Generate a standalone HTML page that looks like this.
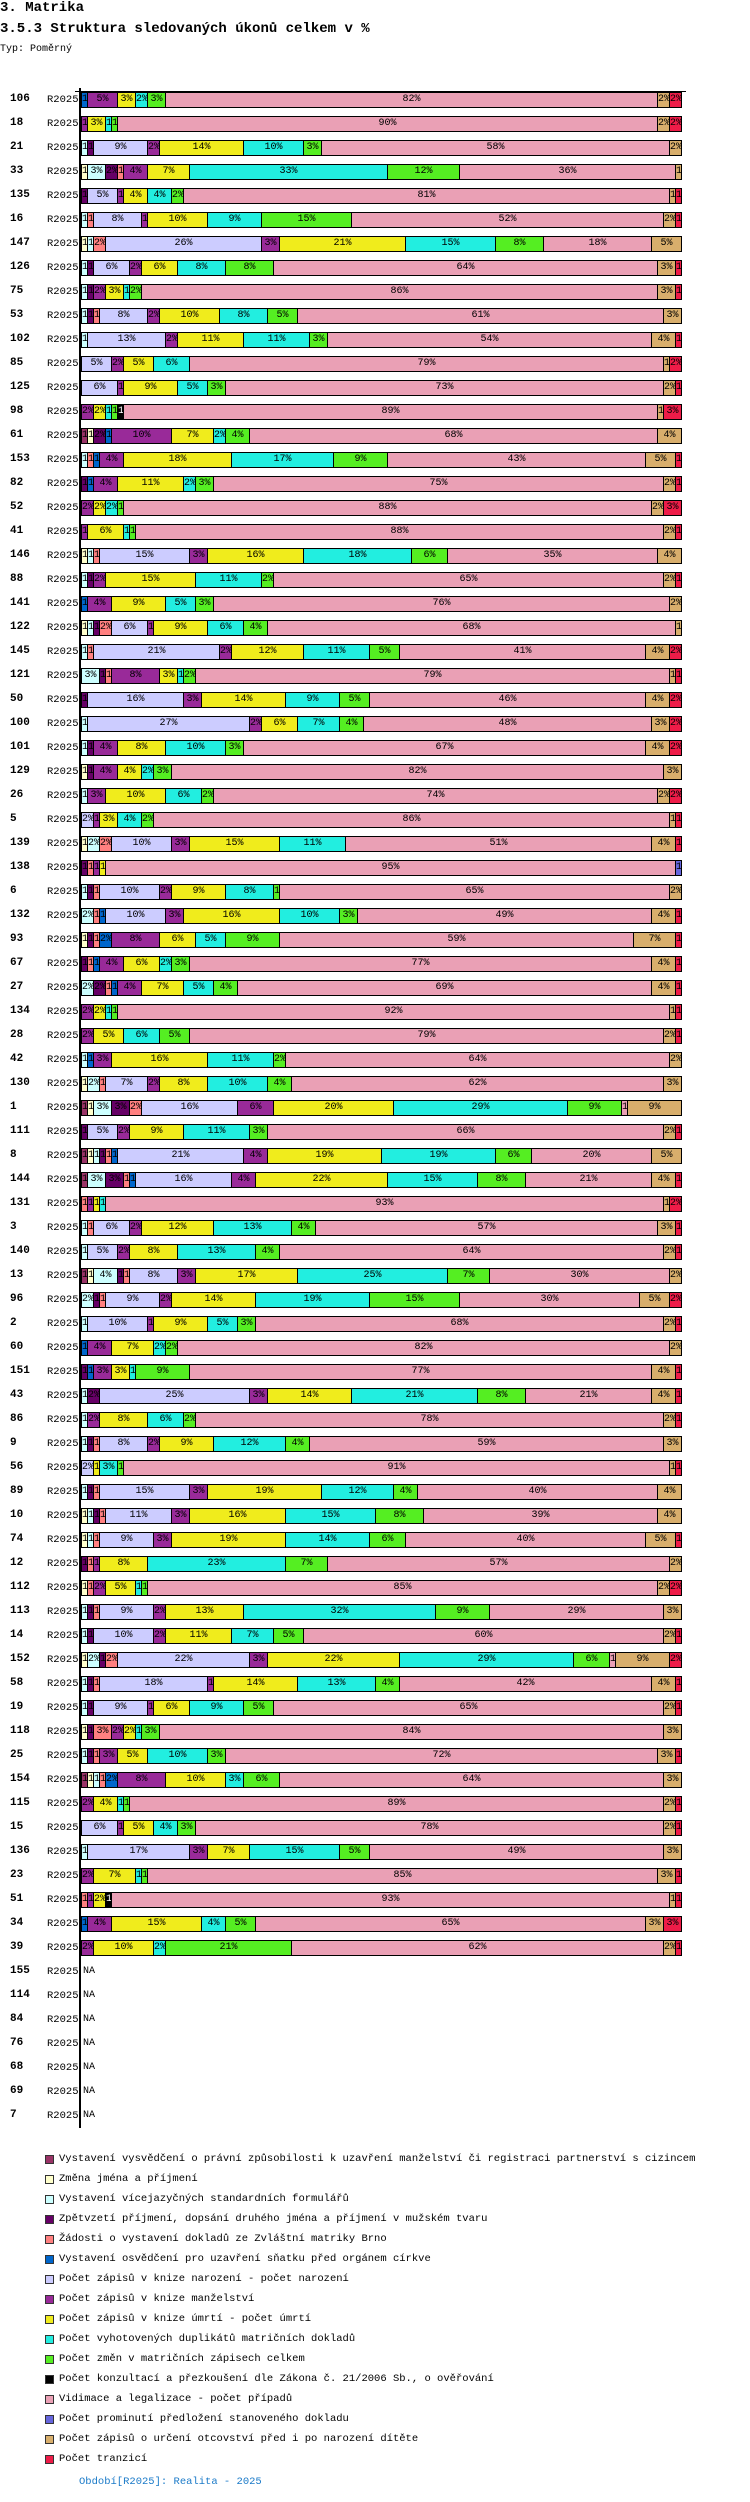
<!DOCTYPE html>
<html><head><meta charset="utf-8">
<style>
body{margin:0;background:#fff;width:750px;height:2502px;position:relative;overflow:hidden;font-family:"Liberation Mono",monospace;color:#000}
.abs{position:absolute}
.seg{position:absolute;box-sizing:border-box;border:1px solid #000;overflow:hidden;white-space:nowrap;text-align:center;font-size:10px;line-height:13px}
.lbl{position:absolute;font-size:11px;line-height:14px}
.leg{position:absolute;font-size:10.5px;line-height:12px;white-space:nowrap}
.sw{position:absolute;width:7px;height:7px;border:1px solid #333}
</style></head><body>
<div class="abs" style="left:0;top:0;font-size:14px;font-weight:bold;line-height:16px">3. Matrika</div>
<div class="abs" style="left:0;top:21px;font-size:14px;font-weight:bold;line-height:16px;white-space:nowrap">3.5.3 Struktura sledovaných úkonů celkem v %</div>
<div class="abs" style="left:0;top:44px;font-size:10px;line-height:12px">Typ: Poměrný</div>
<div id="chart"></div>
<div id="legend"></div>
<div class="abs" style="left:79px;top:2476px;font-size:10.5px;color:#1a7ac8;white-space:nowrap">Období[R2025]: Realita - 2025</div>
<script>
const categories=[106,18,21,33,135,16,147,126,75,53,102,85,125,98,61,153,82,52,41,146,88,141,122,145,121,50,100,101,129,26,5,139,138,6,132,93,67,27,134,28,42,130,1,111,8,144,131,3,140,13,96,2,60,151,43,86,9,56,89,10,74,12,112,113,14,152,58,19,118,25,154,115,15,136,23,51,34,39,155,114,84,76,68,69,7];
const seriesNames=["Vystavení vysvědčení o právní způsobilosti k uzavření manželství či registraci partnerství s cizincem","Změna jména a příjmení","Vystavení vícejazyčných standardních formulářů","Zpětvzetí příjmení, dopsání druhého jména a příjmení v mužském tvaru","Žádosti o vystavení dokladů ze Zvláštní matriky Brno","Vystavení osvědčení pro uzavření sňatku před orgánem církve","Počet zápisů v knize narození - počet narození","Počet zápisů v knize manželství","Počet zápisů v knize úmrtí - počet úmrtí","Počet vyhotovených duplikátů matričních dokladů","Počet změn v matričních zápisech celkem","Počet  konzultací a přezkoušení dle Zákona č. 21/2006 Sb., o ověřování","Vidimace a legalizace - počet případů","Počet prominutí předložení stanoveného dokladu","Počet zápisů o určení otcovství před i po narození dítěte","Počet tranzicí"];
const seriesColors=["#993366","#ffffcc","#ccffff","#660066","#ff8080","#0066cc","#ccccff","#992a99","#f0ec1c","#22eee0","#55ee22","#000000","#eaa0b5","#6666dd","#d8ae6c","#ee1c48"];
const rowValues=[
[0,0,0,0,0,1,0,5,3,2,3,0,82,0,2,2],
[0,0,0,0,0,0,0,1,3,1,1,0,90,0,2,2],
[0,0,1,1,0,0,9,2,14,10,3,0,58,0,2,0],
[0,1,3,2,1,0,0,4,7,33,12,0,36,0,1,0],
[0,0,0,1,0,0,5,1,4,4,2,0,81,0,1,1],
[0,0,1,0,1,0,8,1,10,9,15,0,52,0,2,1],
[0,1,1,0,2,0,26,3,21,15,8,0,18,0,5,0],
[0,0,1,1,0,0,6,2,6,8,8,0,64,0,3,1],
[0,0,1,1,0,0,0,2,3,1,2,0,86,0,3,1],
[0,0,1,1,1,0,8,2,10,8,5,0,61,0,3,0],
[0,0,1,0,0,0,13,2,11,11,3,0,54,0,4,1],
[0,0,0,0,0,0,5,2,5,6,0,0,79,0,1,2],
[0,0,0,0,0,0,6,1,9,5,3,0,73,0,2,1],
[0,0,0,0,0,0,0,2,2,1,1,1,89,0,1,3],
[1,1,0,2,0,1,0,10,7,2,4,0,68,0,4,0],
[0,0,1,0,1,1,0,4,18,17,9,0,43,0,5,1],
[0,0,0,1,0,1,0,4,11,2,3,0,75,0,2,1],
[0,0,0,0,0,0,0,2,2,2,1,0,88,0,2,3],
[0,0,0,0,0,0,0,1,6,1,1,0,88,0,2,1],
[0,1,1,0,1,0,15,3,16,18,6,0,35,0,4,0],
[0,0,1,1,0,0,0,2,15,11,2,0,65,0,2,1],
[0,0,0,0,0,1,0,4,9,5,3,0,76,0,2,0],
[0,1,1,1,2,0,6,1,9,6,4,0,68,0,1,0],
[0,0,1,0,1,0,21,2,12,11,5,0,41,0,4,2],
[0,0,3,1,1,0,0,8,3,1,2,0,79,0,1,1],
[0,0,0,1,0,0,16,3,14,9,5,0,46,0,4,2],
[0,0,1,0,0,0,27,2,6,7,4,0,48,0,3,2],
[0,0,1,1,0,0,0,4,8,10,3,0,67,0,4,2],
[0,1,0,1,0,0,0,4,4,2,3,0,82,0,3,0],
[0,0,1,0,0,0,0,3,10,6,2,0,74,0,2,2],
[0,0,0,0,0,0,2,1,3,4,2,0,86,0,1,1],
[0,1,2,0,2,0,10,3,15,11,0,0,51,0,4,1],
[0,0,0,1,1,0,0,1,1,0,0,0,95,1,0,0],
[0,0,1,1,1,0,10,2,9,8,1,0,65,0,2,0],
[0,0,2,0,1,1,10,3,16,10,3,0,49,0,4,1],
[0,1,0,1,1,2,0,8,6,5,9,0,59,0,7,1],
[0,0,0,1,1,1,0,4,6,2,3,0,77,0,4,1],
[0,0,2,2,1,1,0,4,7,5,4,0,69,0,4,1],
[0,0,0,0,0,0,0,2,2,1,1,0,92,0,1,1],
[0,0,0,0,0,0,0,2,5,6,5,0,79,0,2,1],
[0,0,1,0,0,1,0,3,16,11,2,0,64,0,2,0],
[0,1,2,0,1,0,7,2,8,10,4,0,62,0,3,0],
[1,1,3,3,2,0,16,6,20,29,9,0,1,0,9,0],
[0,0,0,1,0,0,5,2,9,11,3,0,66,0,2,1],
[1,1,1,1,1,1,21,4,19,19,6,0,20,0,5,0],
[1,0,3,3,1,1,16,4,22,15,8,0,21,0,4,1],
[0,0,0,0,1,0,0,1,1,1,0,0,93,0,1,2],
[0,0,1,0,1,0,6,2,12,13,4,0,57,0,3,1],
[0,0,1,0,0,0,5,2,8,13,4,0,64,0,2,1],
[1,1,4,1,1,0,8,3,17,25,7,0,30,0,2,0],
[0,0,2,1,1,0,9,2,14,19,15,0,30,0,5,2],
[0,0,1,0,0,0,10,1,9,5,3,0,68,0,2,1],
[0,0,0,0,0,1,0,4,7,2,2,0,82,0,2,0],
[0,0,0,1,0,1,0,3,3,1,9,0,77,0,4,1],
[0,0,1,2,0,0,25,3,14,21,8,0,21,0,4,1],
[0,0,1,0,0,0,0,2,8,6,2,0,78,0,2,1],
[0,0,1,1,1,0,8,2,9,12,4,0,59,0,3,0],
[0,0,0,0,0,0,2,0,1,3,1,0,91,0,1,1],
[0,0,1,1,1,0,15,3,19,12,4,0,40,0,4,0],
[0,1,1,1,1,0,11,3,16,15,8,0,39,0,4,0],
[0,1,1,0,1,0,9,3,19,14,6,0,40,0,5,1],
[0,0,0,1,1,0,0,1,8,23,7,0,57,0,2,0],
[0,1,0,0,1,0,0,2,5,1,1,0,85,0,2,2],
[0,0,1,1,1,0,9,2,13,32,9,0,29,0,3,0],
[0,0,1,1,0,0,10,2,11,7,5,0,60,0,2,1],
[0,1,2,1,2,0,22,3,22,29,6,0,1,0,9,2],
[0,0,1,1,1,0,18,1,14,13,4,0,42,0,4,1],
[0,0,1,1,0,0,9,1,6,9,5,0,65,0,2,1],
[0,1,0,1,3,0,0,2,2,1,3,0,84,0,3,0],
[0,0,1,1,1,0,0,3,5,10,3,0,72,0,3,1],
[1,1,1,0,1,2,0,8,10,3,6,0,64,0,3,0],
[0,0,0,0,0,0,0,2,4,1,1,0,89,0,2,1],
[0,0,0,0,0,0,6,1,5,4,3,0,78,0,2,1],
[0,0,1,0,0,0,17,3,7,15,5,0,49,0,3,0],
[0,0,0,0,0,0,0,2,7,1,1,0,85,0,3,1],
[0,0,0,0,1,0,0,1,2,0,0,1,93,0,1,1],
[0,0,0,0,0,1,0,4,15,4,5,0,65,0,3,3],
[0,0,0,0,0,0,0,2,10,2,21,0,62,0,2,1],
null,null,null,null,null,null,null];
const periodLabel="R2025";

const X0=81,W=600,Y0=92,PITCH=24,BH=15;
function xScale(p){return X0+p/100*W;}
function yRow(i){return Y0+i*PITCH;}

const chart=document.getElementById('chart');
const axis=document.createElement('div');
axis.className='abs';


axis.style.cssText='left:79px;top:88px;width:2px;height:2040px;background:#000';
chart.appendChild(axis);
const topLine=document.createElement('div');
topLine.className='abs';


topLine.style.cssText='left:75px;top:91px;width:611px;height:1px;background:#000';
chart.appendChild(topLine);

categories.forEach((cat,i)=>{
  const y=yRow(i);
  const c=document.createElement('div');
  c.className='lbl';
  
  
  c.style.cssText=`left:10px;top:${y}px;font-weight:bold`;
  c.textContent=cat;
  chart.appendChild(c);
  const p=document.createElement('div');
  p.className='lbl';
  
  
  p.style.cssText=`left:47px;top:${y+1}px;font-size:10.5px`;
  p.textContent=periodLabel;
  chart.appendChild(p);
  const vals=rowValues[i];
  if(!vals){
    const na=document.createElement('div');
    na.className='lbl';
    
    
    na.style.cssText=`left:83px;top:${y+1}px;font-size:10px`;
    na.textContent='NA';
    chart.appendChild(na);
    return;
  }
  const sum=vals.reduce((a,b)=>a+b,0);
  let acc=0;
  vals.forEach((v,s)=>{
    if(v<=0)return;
    const p0=acc/sum*100,p1=(acc+v)/sum*100;acc+=v;
    const x0=Math.round(xScale(p0)),x1=Math.round(xScale(p1));
    const seg=document.createElement('div');
    seg.className='seg';
    
    
    seg.style.cssText=`left:${x0}px;top:${y}px;width:${x1-x0+1}px;height:${BH+1}px;background:${seriesColors[s]};color:${s===11?'#fff':'#000'}`;
    seg.textContent=Math.round(v/sum*100)+'%';
    chart.appendChild(seg);
  });
});

const legend=document.getElementById('legend');
seriesNames.forEach((n,s)=>{
  const y=2159+s*20;
  const sw=document.createElement('div');
  sw.className='sw';
  
  
  sw.style.cssText=`left:45px;top:${y-4}px;background:${seriesColors[s]}`;
  legend.appendChild(sw);
  const t=document.createElement('div');
  t.className='leg';
  
  
  t.style.cssText=`left:59px;top:${y-6}px`;
  t.textContent=n;
  legend.appendChild(t);
});
</script>
</body></html>
